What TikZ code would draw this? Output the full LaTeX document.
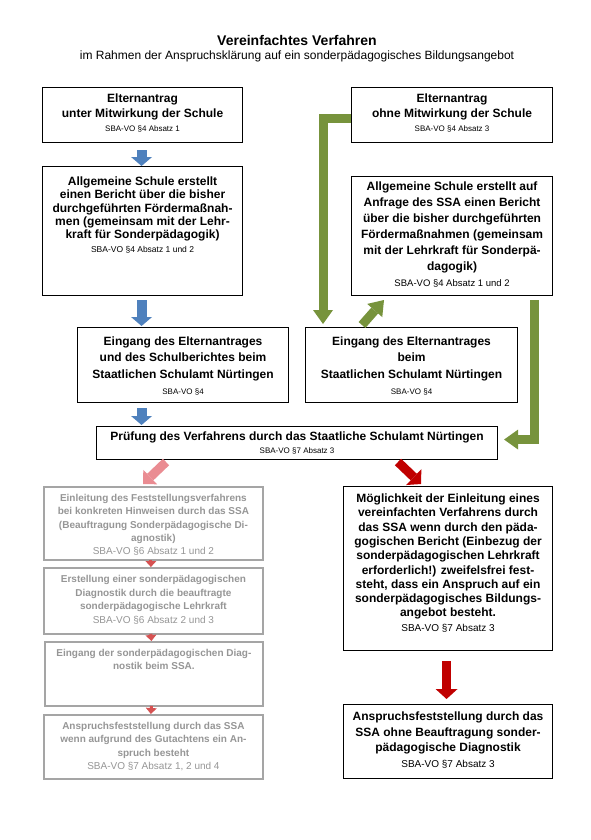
\documentclass[tikz,border=0pt]{standalone}
\usepackage{fontspec}
\setmainfont{Liberation Sans}
\usetikzlibrary{arrows.meta,calc}
\definecolor{cblue}{RGB}{79,129,189}
\definecolor{cgreen}{RGB}{119,147,60}
\definecolor{cred}{RGB}{192,0,0}
\definecolor{cpink}{RGB}{234,140,146}
\definecolor{csmall}{RGB}{214,82,82}
\definecolor{cgraytext}{RGB}{150,150,150}
\definecolor{cgrayline}{RGB}{165,165,165}
\newcommand\bxc[6]{\begin{minipage}[t][#2pt][t]{#1pt}\centering\fontsize{#3}{#4}\selectfont\bfseries\rule{0pt}{#5pt}#6\end{minipage}}
\newcommand\sba[2]{{\fontsize{#1}{#1}\selectfont\mdseries #2}}
\tikzset{
  mbox/.style={draw=black, line width=1.1pt, inner sep=0pt, anchor=north west},
  gbox/.style={draw=cgrayline, line width=1.8pt, inner sep=0pt, anchor=north west, text=cgraytext},
  bluearr/.style={draw=cblue, line width=10pt, -{Triangle[width=21pt,length=9pt,line width=0pt]}},
  greenarr/.style={draw=cgreen, line width=9pt, line join=miter, -{Triangle[width=20pt,length=14pt,line width=0pt]}},
  redarr/.style={draw=cred, line width=9pt, -{Triangle[width=22pt,length=10pt,line width=0pt]}},
  pinkarr/.style={draw=cpink, line width=9pt, -{Triangle[width=20pt,length=10pt,line width=0pt]}},
  smallarr/.style={draw=csmall, line width=3pt, -{Triangle[width=11pt,length=6pt,line width=0pt]}},
}
\begin{document}
\begin{tikzpicture}[x=1pt,y=-1pt]
\fill[white] (0,0) rectangle (591,840);
\useasboundingbox (0,0) rectangle (591,840);

\node[anchor=base, font=\fontsize{14}{17}\selectfont\bfseries] (title) at (297,46) {Vereinfachtes Verfahren};
\node[anchor=base, font=\fontsize{12}{14}\selectfont] (subtitle) at (297,59.5) {im Rahmen der Anspruchsklärung auf ein sonderpädagogisches Bildungsangebot};

\node[mbox] (A) at (42,87) {\bxc{200}{55}{12}{14.5}{15}{Elternantrag\\unter Mitwirkung der Schule\\\sba{8}{SBA-VO §4 Absatz 1}}};
\node[mbox] (B) at (351,87) {\bxc{201}{55}{12}{14.5}{15}{Elternantrag\\ohne Mitwirkung der Schule\\\sba{8}{SBA-VO §4 Absatz 3}}};
\node[mbox] (C) at (42,166) {\bxc{200}{129}{12}{13.3}{19}{Allgemeine Schule erstellt\\einen Bericht über die bisher\\durchgeführten Fördermaßnah-\\men (gemeinsam mit der Lehr-\\kraft für Sonderpädagogik)\\\sba{8.5}{SBA-VO §4 Absatz 1 und 2}}};
\node[mbox] (D) at (351,176) {\bxc{201}{119}{12}{16}{14}{Allgemeine Schule erstellt auf\\Anfrage des SSA einen Bericht\\über die bisher durchgeführten\\Fördermaßnahmen (gemeinsam\\mit der Lehrkraft für Sonderpä-\\dagogik)\\\sba{9.5}{SBA-VO §4 Absatz 1 und 2}}};
\node[mbox] (E) at (77,327) {\bxc{211}{75}{12}{16.5}{17.5}{Eingang des Elternantrages\\und des Schulberichtes beim\\Staatlichen Schulamt Nürtingen\\\sba{8}{SBA-VO §4}}};
\node[mbox] (F) at (305,327) {\bxc{212}{75}{12}{16.5}{17.5}{Eingang des Elternantrages\\beim\\Staatlichen Schulamt Nürtingen\\\sba{8}{SBA-VO §4}}};
\node[mbox] (G) at (96,426) {\bxc{401}{33}{12}{13}{14}{Prüfung des Verfahrens durch das Staatliche Schulamt Nürtingen\\\sba{8}{SBA-VO §7 Absatz 3}}};
\node[mbox] (H) at (343,486) {\bxc{209}{164}{12}{14.3}{16}{Möglichkeit der Einleitung eines\\vereinfachten Verfahrens durch\\das SSA wenn durch den päda-\\gogischen Bericht (Einbezug der\\sonderpädagogischen Lehrkraft\\erforderlich!) zweifelsfrei fest-\\steht, dass ein Anspruch auf ein\\sonderpädagogisches Bildungs-\\angebot besteht.\\\sba{10}{SBA-VO §7 Absatz 3}}};
\node[mbox] (I) at (343,704) {\bxc{209}{74}{12}{15.7}{16}{Anspruchsfeststellung durch das\\SSA ohne Beauftragung sonder-\\pädagogische Diagnostik\\\sba{10}{SBA-VO §7 Absatz 3}}};

\node[gbox] (G1) at (43,486) {\bxc{219}{73}{10}{13.3}{14.6}{Einleitung des Feststellungsverfahrens\\bei konkreten Hinweisen durch das SSA\\(Beauftragung Sonderpädagogische Di-\\agnostik)\\\sba{10}{SBA-VO §6 Absatz 1 und 2}}};
\node[gbox] (G2) at (43,567) {\bxc{219}{66}{10}{13.7}{14.6}{Erstellung einer sonderpädagogischen\\Diagnostik durch die beauftragte\\sonderpädagogische Lehrkraft\\\sba{10}{SBA-VO §6 Absatz 2 und 3}}};
\node[gbox] (G3) at (44,641) {\bxc{218}{64}{10}{13}{14.6}{Eingang der sonderpädagogischen Diag-\\nostik beim SSA.}};
\node[gbox] (G4) at (43,714) {\bxc{219}{64}{10}{13.4}{14.6}{Anspruchsfeststellung durch das SSA\\wenn aufgrund des Gutachtens ein An-\\spruch besteht\\\sba{10}{SBA-VO §7 Absatz 1, 2 und 4}}};

% blue arrows
\draw[bluearr] ($(A.south)+(-1,7)$) -- ($(C.north)+(-1,0)$);
\draw[bluearr] ($(C.south)+(-1,4)$) -- ($(C.south |- E.north)+(-1,-1)$);
\draw[bluearr] ($(C.south |- E.south)+(-1,5)$) -- ($(C.south |- G.north)+(-1,-1)$);

% green arrows
\coordinate (gx) at (323,0);
\coordinate (gx2) at (534,0);
\draw[greenarr] ($(B.west)+(0,3.5)$) -| ($(F.north -| gx)+(0,-3)$);
\coordinate (fd1) at (362,325);
\coordinate (fd2) at (384,300);
\draw[greenarr] (fd1) -- (fd2);
\draw[greenarr] ($(D.south -| gx2)+(0,4)$) |- ($(G.east)+(6,-3.5)$);

% red arrows
\coordinate (rd1) at (398,462);
\coordinate (rd2) at (421,484);
\draw[redarr] (rd1) -- (rd2);
\draw[redarr] ($(H.south)+(-1.5,10)$) -- ($(I.north)+(-1.5,-5)$);

% pink / gray-branch arrows
\coordinate (pd1) at (166,462);
\coordinate (pd2) at (143,484);
\draw[pinkarr] (pd1) -- (pd2);
\draw[smallarr] ($(G1.south)+(-2.5,-1)$) -- ($(G2.north)+(-2.5,0)$);
\draw[smallarr] ($(G2.south)+(-2.5,-1)$) -- ($(G3.north)+(-2.5,0)$);
\draw[smallarr] ($(G3.south)+(-2.5,-1)$) -- ($(G4.north)+(-2.5,0)$);
\end{tikzpicture}
\end{document}
